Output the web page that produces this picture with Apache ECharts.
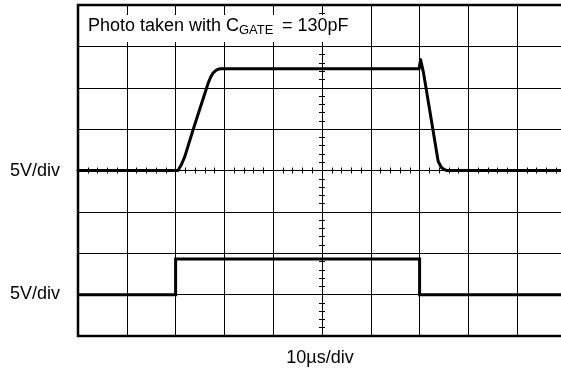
<!DOCTYPE html>
<html>
<head>
<meta charset="utf-8">
<script src="https://cdn.jsdelivr.net/npm/echarts@6/dist/echarts.min.js"></script>
<style>
  html, body { margin: 0; padding: 0; background: #fff; }
  #chart { width: 561px; height: 374px; }
</style>
</head>
<body>
<div id="chart"></div>
<script>
// Time in µs relative to the centre of the screen, voltages in volts.
const gateTime = [-50, -29.5, -28.8, -28.1, -26.4, -23.3, -22.8, -22.3, -21.6, -20.9, 19.9, 20.2, 20.8, 23.8, 24.5, 25.5, 50];
const gateVolts = [0, 0, 0.72, 1.7, 4.95, 10.6, 11.3, 11.8, 12.15, 12.3, 12.3, 13.4, 11.8, 1.12, 0.33, 0, 0];

const inputTime = [-50, -30, -30, 20, 20, 50];
const inputVolts = [0, 0, 4.3, 4.3, 0, 0];

// Channel settings: volts per division and trace position in divisions
const voltsPerDiv = 5;
const gateOffsetDiv = 0;
const inputOffsetDiv = -3;

const channelLabels = ['5V/div', '5V/div'];
const timebaseLabel = '10µs/div';

const FONT = '"Liberation Sans", Arial, Helvetica, sans-serif';

function toDivs(times, volts, offset) {
  return times.map((t, i) => [t, volts[i] / voltsPerDiv + offset]);
}

const chart = echarts.init(document.getElementById('chart'), null, { renderer: 'canvas' });

const tickCommon = {
  axisLabel: { show: false },
  axisLine: { show: false, onZero: true },
  axisTick: { show: true, length: 3, lineStyle: { color: '#000', width: 1 } },
  minorTick: { show: true, splitNumber: 5, length: 3, lineStyle: { color: '#000', width: 1 } },
  splitLine: { show: false }
};

chart.setOption({
  animation: false,
  backgroundColor: '#fff',
  grid: {
    left: 78, top: 5, width: 488, bottom: 38,
    outerBoundsMode: 'none', containLabel: false,
    show: true, borderColor: '#000', borderWidth: 2.5, backgroundColor: 'transparent'
  },
  xAxis: [
    Object.assign({}, tickCommon, {
      type: 'value', min: -50, max: 50, interval: 10, position: 'bottom',
      splitLine: { show: true, lineStyle: { color: '#000', width: 1 } }
    }),
    Object.assign({}, tickCommon, {
      type: 'value', min: -50, max: 50, interval: 10, position: 'top'
    })
  ],
  yAxis: [
    Object.assign({}, tickCommon, {
      type: 'value', min: -4, max: 4, interval: 1, position: 'left',
      splitLine: { show: true, lineStyle: { color: '#000', width: 1 } }
    }),
    Object.assign({}, tickCommon, {
      type: 'value', min: -4, max: 4, interval: 1, position: 'right'
    })
  ],
  graphic: [
    { type: 'rect', z: 100, shape: { x: 80, y: 15, width: 285, height: 27 }, style: { fill: '#fff' } },
    { type: 'text', z: 101, x: 88, y: 26, style: { text: 'Photo taken with C', font: '18px ' + FONT, fill: '#000', verticalAlign: 'middle', align: 'left' } },
    { type: 'text', z: 101, x: 239, y: 30.5, style: { text: 'GATE', font: '13px ' + FONT, fill: '#000', verticalAlign: 'middle', align: 'left' } },
    { type: 'text', z: 101, x: 282, y: 26, style: { text: '= 130pF', font: '18px ' + FONT, fill: '#000', verticalAlign: 'middle', align: 'left' } },
    { type: 'text', z: 101, x: 60, y: 171, style: { text: channelLabels[0], font: '18px ' + FONT, fill: '#000', verticalAlign: 'middle', align: 'right' } },
    { type: 'text', z: 101, x: 60, y: 294.5, style: { text: channelLabels[1], font: '18px ' + FONT, fill: '#000', verticalAlign: 'middle', align: 'right' } },
    { type: 'text', z: 101, x: 320, y: 358, style: { text: timebaseLabel, font: '18px ' + FONT, fill: '#000', verticalAlign: 'middle', align: 'center' } }
  ],
  series: [
    {
      type: 'line', xAxisIndex: 0, yAxisIndex: 0, z: 5,
      data: toDivs(gateTime, gateVolts, gateOffsetDiv),
      showSymbol: false, symbol: 'none',
      lineStyle: { color: '#000', width: 3, join: 'round', cap: 'round' }
    },
    {
      type: 'line', xAxisIndex: 0, yAxisIndex: 0, z: 5,
      data: toDivs(inputTime, inputVolts, inputOffsetDiv),
      showSymbol: false, symbol: 'none',
      lineStyle: { color: '#000', width: 3, join: 'miter' }
    }
  ]
});
</script>
</body>
</html>
